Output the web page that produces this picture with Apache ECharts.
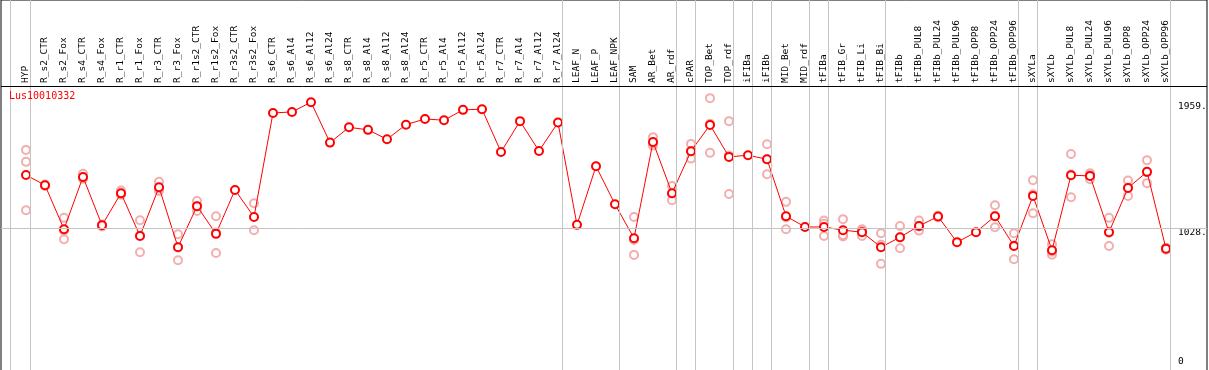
<!DOCTYPE html>
<html><head><meta charset="utf-8">
<script src="https://cdn.jsdelivr.net/npm/echarts@6/dist/echarts.min.js"></script>
<style>html,body{margin:0;padding:0;background:#fff}#c{width:1209px;height:370px}</style>
</head><body><div id="c"></div>
<script>
const geneId = 'Lus10010332';
const categories = ['HYP','R_s2_CTR','R_s2_Fox','R_s4_CTR','R_s4_Fox','R_r1_CTR','R_r1_Fox','R_r3_CTR','R_r3_Fox','R_r1s2_CTR','R_r1s2_Fox','R_r3s2_CTR','R_r3s2_Fox','R_s6_CTR','R_s6_Al4','R_s6_Al12','R_s6_Al24','R_s8_CTR','R_s8_Al4','R_s8_Al12','R_s8_Al24','R_r5_CTR','R_r5_Al4','R_r5_Al12','R_r5_Al24','R_r7_CTR','R_r7_Al4','R_r7_Al12','R_r7_Al24','LEAF_N','LEAF_P','LEAF_NPK','SAM','AR_Bet','AR_rdf','cPAR','TOP_Bet','TOP_rdf','iFIBa','iFIBb','MID_Bet','MID_rdf','tFIBa','tFIB_Gr','tFIB_Li','tFIB_Bi','tFIBb','tFIBb_PUL8','tFIBb_PUL24','tFIBb_PUL96','tFIBb_OPP8','tFIBb_OPP24','tFIBb_OPP96','sXYLa','sXYLb','sXYLb_PUL8','sXYLb_PUL24','sXYLb_PUL96','sXYLb_OPP8','sXYLb_OPP24','sXYLb_OPP96'];
const meanValues = [1436,1357,1019,1421,1049,1296,967,1342,880,1196,983,1321,1113,1913,1921,1996,1685,1803,1783,1711,1823,1867,1857,1937,1942,1613,1850,1621,1839,1052,1503,1211,949,1690,1296,1619,1821,1575,1588,1557,1119,1036,1036,1011,996,880,957,1044,1116,919,996,1119,890,1275,857,1434,1429,996,1336,1460,869];
const rep1 = [1629,1362,1106,1446,1055,1316,1088,1383,980,1236,1119,null,1219,null,null,null,null,null,null,null,null,null,null,null,null,null,null,null,null,null,null,null,1113,1727,1352,1675,2027,1850,null,1673,1229,null,1085,1096,1019,988,1044,1085,1110,null,null,1203,988,1396,903,1598,1450,1106,1393,1550,860];
const rep2 = [1537,1352,942,1410,1040,1283,842,1313,780,1159,836,null,1011,null,null,null,null,null,null,null,null,null,null,null,null,null,null,null,null,null,null,null,821,1662,1242,1562,1606,1290,null,1442,1019,null,1060,962,967,752,872,1008,1122,null,null,1034,788,1142,823,1265,1403,890,1275,1373,875];
const rep3 = [1165,null,1009,1408,null,1290,971,1330,880,1193,994,null,null,null,null,null,null,null,null,null,null,null,null,null,null,null,null,null,null,null,null,null,936,1680,1294,1620,1830,1585,null,1556,1109,null,967,975,1002,900,955,1039,null,null,null,1120,894,1287,845,1439,1434,992,1340,1457,872];
const groupEnds = [0,28,31,34,35,37,38,39,41,42,45,52,53,60];
const yLabelValues = [0,1028,1959];
const refLineValue = 1028;

// layout (pixels)
const W = 1209, X0 = 26, STEP = 19, PLOT_L = 1, PLOT_R = 1207, AXIS_X = 1170, HEADER_H = 86;
const Y_ZERO_PX = 361.6, UNITS_PER_PX = 931 / 121, BOTTOM_PX = 374;
const pxToIdx = px => (px - X0) / STEP;
const yMax = Y_ZERO_PX * UNITS_PER_PX;
const yMin = -(BOTTOM_PX - Y_ZERO_PX) * UNITS_PER_PX;
const headerLineValue = (Y_ZERO_PX - HEADER_H) * UNITS_PER_PX;

const repData = [];
[rep1, rep2, rep3].forEach(arr => arr.forEach((v, i) => { if (v != null) repData.push([i, v]); }));
const mainData = meanValues.map((v, i) => [i, v]);

const vLines = [{ xAxis: pxToIdx(10) }].concat(groupEnds.map(i => ({ xAxis: i + 4.3 / STEP })));
const grey = '#c4c4c4';
const mono = 'DejaVu Sans Mono';
const gb = -(BOTTOM_PX - 370);

const chart = echarts.init(document.getElementById('c'), null, { renderer: 'canvas' });
chart.setOption({
  animation: false,
  backgroundColor: '#fff',
  title: { text: geneId, left: 9, top: 91, padding: 0,
    textStyle: { color: '#ff0000', fontSize: 10, fontFamily: mono, fontWeight: 'normal' } },
  grid: [
    { left: PLOT_L, right: W - PLOT_R, top: 0, bottom: gb, outerBoundsMode: 'none', containLabel: false,
      show: true, borderColor: '#000', borderWidth: 1, backgroundColor: 'transparent' },
    { left: PLOT_L, right: W - AXIS_X, top: 0, bottom: gb, outerBoundsMode: 'none', containLabel: false, show: false },
    { left: X0 - STEP / 2, width: STEP * categories.length, top: 0, height: HEADER_H, outerBoundsMode: 'none', containLabel: false, show: false }
  ],
  xAxis: [
    { gridIndex: 0, type: 'value', min: pxToIdx(PLOT_L), max: pxToIdx(PLOT_R), show: false },
    { gridIndex: 1, type: 'value', min: 0, max: 1, show: false },
    { gridIndex: 2, type: 'category', data: categories, position: 'bottom', boundaryGap: true,
      axisLine: { show: false }, axisTick: { show: false }, splitLine: { show: false },
      axisLabel: { inside: true, rotate: 90, interval: 0, margin: 3, color: '#000', fontSize: 9.5, fontFamily: mono } }
  ],
  yAxis: [
    { gridIndex: 0, type: 'value', min: yMin, max: yMax, show: false },
    { gridIndex: 1, type: 'value', min: yMin, max: yMax, position: 'right',
      axisLine: { show: false }, axisTick: { show: false }, splitLine: { show: false },
      axisLabel: { customValues: yLabelValues, margin: 8, color: '#000', fontSize: 9.5, fontFamily: mono,
        formatter: v => v === 0 ? '0' : (v === refLineValue ? '{d|' + v + '.}' : v + '.'),
        rich: { d: { padding: [9, 0, 0, 0], fontSize: 9.5, fontFamily: mono, color: '#000' } } } },
    { gridIndex: 2, type: 'value', min: 0, max: 1, show: false }
  ],
  series: [
    { type: 'scatter', xAxisIndex: 0, yAxisIndex: 0, data: repData, z: 2,
      symbol: 'emptyCircle', symbolSize: 8,
      itemStyle: { color: '#f09a9a', borderColor: '#f09a9a', borderWidth: 1 },
      markLine: { silent: true, symbol: 'none', label: { show: false }, animation: false,
        data: vLines.map(d => Object.assign({ lineStyle: { color: grey, width: 1, type: 'solid' } }, d))
          .concat([
            { yAxis: refLineValue, lineStyle: { color: grey, width: 1, type: 'solid' } },
            { yAxis: headerLineValue, lineStyle: { color: '#000', width: 1, type: 'solid' } }
          ]) } },
    { type: 'line', xAxisIndex: 0, yAxisIndex: 0, data: mainData, z: 3,
      symbol: 'emptyCircle', symbolSize: 8,
      lineStyle: { color: '#ff0000', width: 1 },
      itemStyle: { color: '#ff0000', borderColor: '#ff0000', borderWidth: 1.3 } }
  ]
});
</script></body></html>
